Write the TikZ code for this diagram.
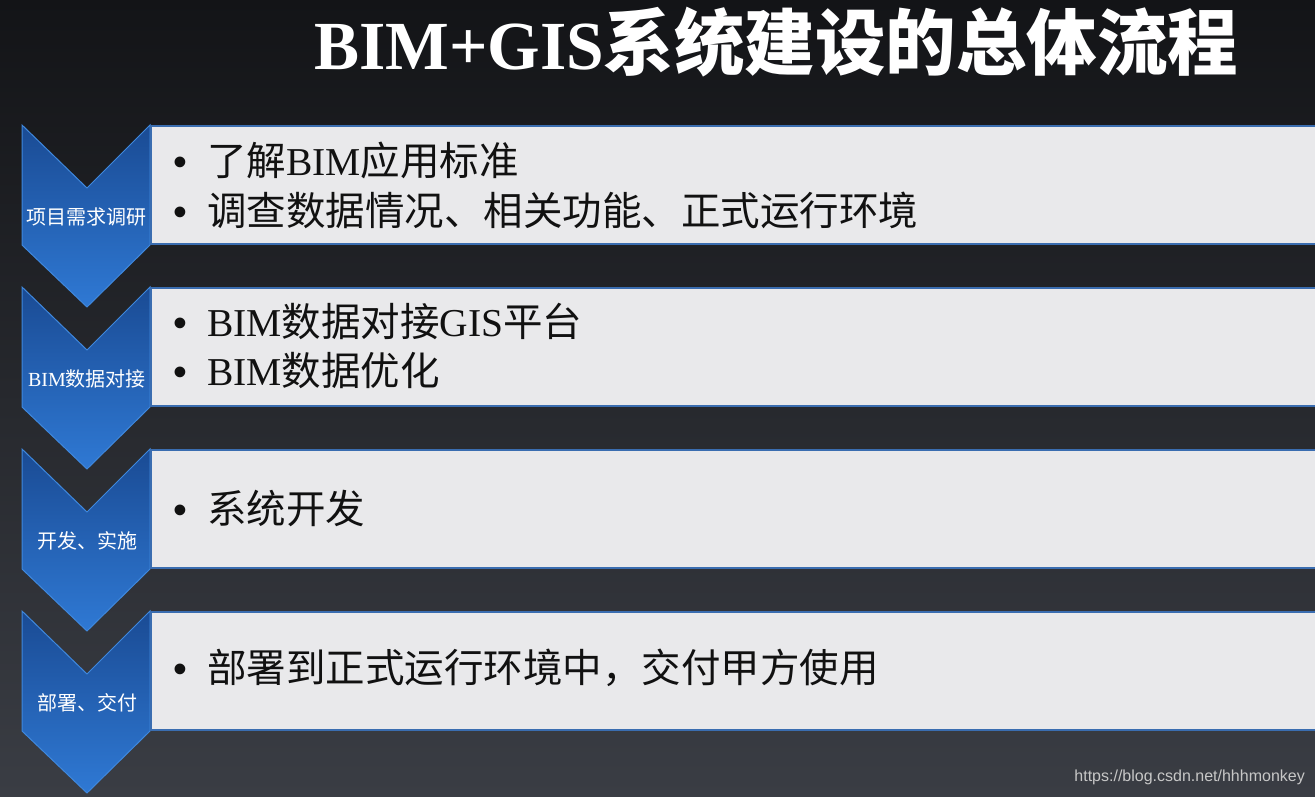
\documentclass[tikz,border=0pt]{standalone}
\usepackage{fontspec}
\setmainfont{Liberation Serif}
\newfontfamily\cjk{Noto Sans CJK SC}
\newfontfamily\sansfont{Liberation Sans}
\newcommand\zh[1]{{\cjk #1}}
\definecolor{bgtop}{HTML}{131417}
\definecolor{bgbot}{HTML}{3A3D44}
\definecolor{chevtop}{HTML}{1A4B94}
\definecolor{chevbot}{HTML}{2F79D4}
\definecolor{chevedge}{HTML}{3F88DD}
\definecolor{boxfill}{HTML}{E9E9EB}
\definecolor{boxedge}{HTML}{3A6DB0}
\definecolor{ink}{HTML}{111111}
\tikzset{
  chev/.style={top color=chevtop, bottom color=chevbot, draw=chevedge, line width=1pt, line join=miter},
  stepbox/.style={rectangle, fill=boxfill, draw=boxedge, line width=1.6pt, anchor=north west,
    minimum width=1190pt, minimum height=118pt, inner sep=0pt},
  item/.style={anchor=west, inner sep=0pt, text=ink, font=\fontsize{39.5}{42}\selectfont},
  chevlabel/.style={inner sep=0pt, text=white, font=\fontsize{20}{22}\selectfont},
}
\newcommand\bul{\makebox[34pt][l]{\sansfont •}}
\begin{document}
\begin{tikzpicture}[x=1pt,y=-1pt]
\useasboundingbox (0,0) rectangle (1315,796);
\clip (0,0) rectangle (1315,796);
\shade[top color=bgtop, bottom color=bgbot] (0,0) rectangle (1315,796);
% title
\node[anchor=west, inner sep=0pt, text=white, yscale=1.02] (title) at (314,42)
  {\fontsize{67.5}{70}\selectfont\bfseries BIM+GIS{\cjk\fontsize{70.5}{72}\selectfont 系统建设的总体流程}};
% chevrons and boxes
\foreach \i/\lab in {0/{\zh{项目需求调研}},1/{BIM\zh{数据对接}},2/{\zh{开发、实施}},3/{\zh{部署、交付}}}{
  \pgfmathsetmacro\t{125+162*\i}
  \shade[chev] (22,\t) -- (87,{\t+63}) -- (150,\t) -- (150,{\t+120}) -- (87,{\t+182}) -- (22,{\t+120}) -- cycle;
  \node[stepbox] (box\i) at (150,\t) {};
  \node[chevlabel] (lab\i) at (87,{\t+92}) {\lab};
}
% items
\node[item] (i11) at (173,160) {\bul\zh{了解}BIM\zh{应用标准}};
\node[item] (i12) at (173,210) {\bul\zh{调查数据情况、相关功能、正式运行环境}};
\node[item] (i21) at (173,321) {\bul BIM\zh{数据对接}GIS\zh{平台}};
\node[item] (i22) at (173,371) {\bul BIM\zh{数据优化}};
\node[item] (i31) at (173,508) {\bul\zh{系统开发}};
\node[item] (i41) at (173,668) {\bul\zh{部署到正式运行环境中，交付甲方使用}};
% watermark
\node[anchor=east, inner sep=0pt, text=black!22, font=\sansfont\fontsize{16}{18}\selectfont] (wm) at (1305,777) {https://blog.csdn.net/hhhmonkey};
\end{tikzpicture}
\end{document}
